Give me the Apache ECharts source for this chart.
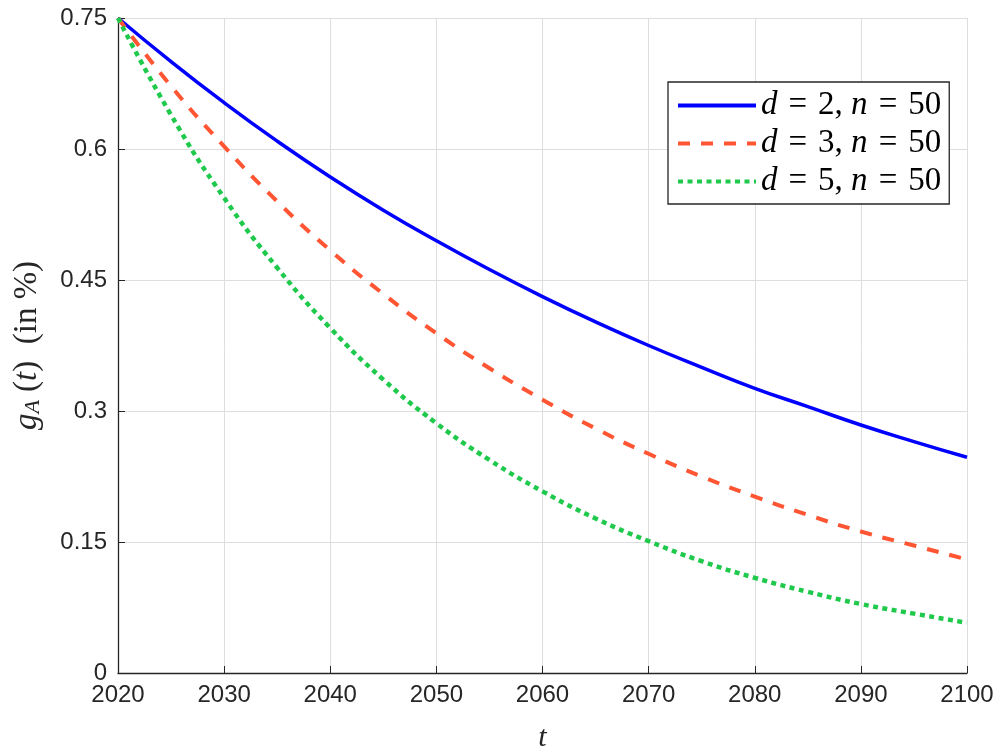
<!DOCTYPE html>
<html>
<head>
<meta charset="utf-8">
<script src="https://cdn.jsdelivr.net/npm/echarts@6/dist/echarts.min.js"></script>
<style>html,body{margin:0;padding:0;background:#fff;overflow:hidden}#c{width:1000px;height:747px}</style>
</head>
<body>
<div id="c"></div>
<script>
// Years (t)
const years = [2020,2025,2030,2035,2040,2045,2050,2055,2060,2065,2070,2075,2080,2085,2090,2095,2100];
// g_A(t) in %
const d2n50 = [0.750,0.700,0.653,0.609,0.568,0.530,0.495,0.462,0.431,0.402,0.375,0.350,0.326,0.305,0.284,0.265,0.247];
const d3n50 = [0.750,0.672,0.603,0.540,0.484,0.434,0.389,0.349,0.313,0.280,0.251,0.225,0.202,0.181,0.162,0.146,0.130];
const d5n50 = [0.750,0.639,0.544,0.464,0.395,0.336,0.286,0.244,0.208,0.177,0.151,0.128,0.109,0.093,0.079,0.068,0.0575];
const seriesNames = ['d2','d3','d5'];
const legendLabels = {d2:'2', d3:'3', d5:'5'};
const yTicks = [0, 0.15, 0.3, 0.45, 0.6, 0.75];

const pair = arr => years.map((y,i)=>[y,arr[i]]);
const TXT = '#262626';
const chart = echarts.init(document.getElementById('c'), null, {renderer:'canvas'});
const mk = (name, data, color, type, w) => ({
  name, type:'line', data: pair(data), symbol:'none', smooth:true,
  lineStyle:{color, width:w, type, cap:'butt'}, itemStyle:{color}
});
const EQ = '\u200A = \u200A';
chart.setOption({
  animation:false,
  grid:{left:118, right:33, top:18, bottom:74, containLabel:false, outerBoundsMode:'none'},
  xAxis:{
    type:'value', min:2020, max:2100, interval:10,
    axisLine:{onZero:false, lineStyle:{color:TXT, width:1.3}},
    axisTick:{inside:true, length:7, lineStyle:{color:TXT}},
    axisLabel:{color:TXT, fontSize:24, fontFamily:'Liberation Sans', margin:10, formatter:v=>String(v)},
    splitLine:{show:true, lineStyle:{color:'#dedede', width:1}},
    name:'t', nameLocation:'middle', nameGap:50,
    nameTextStyle:{fontFamily:'Liberation Serif', fontStyle:'italic', fontSize:30, color:TXT}
  },
  yAxis:{
    type:'value', min:0, max:0.75, interval:0.15,
    axisLine:{show:true, lineStyle:{color:TXT, width:1.3}},
    axisTick:{show:true, inside:true, length:7, lineStyle:{color:TXT}},
    axisLabel:{color:TXT, fontSize:24, fontFamily:'Liberation Sans', margin:11,
      formatter:v=>{const t=yTicks.find(x=>Math.abs(x-v)<1e-9); return t===undefined?'':String(t);}},
    splitLine:{show:true, lineStyle:{color:'#dedede', width:1}},
    name:'{i|g}{s|A}{n| (}{i|t}{n|)  (in %)}', nameLocation:'middle', nameGap:74, nameRotate:90,
    nameTextStyle:{color:TXT, rich:{
      i:{fontFamily:'Liberation Serif', fontStyle:'italic', fontSize:33, color:TXT},
      s:{fontFamily:'Liberation Serif', fontStyle:'italic', fontSize:22, color:TXT, verticalAlign:'bottom', padding:[12,0,0,0]},
      n:{fontFamily:'Liberation Serif', fontSize:33, color:TXT}
    }}
  },
  legend:{
    orient:'vertical', left:668, top:82, itemWidth:78, itemHeight:14, itemGap:5,
    padding:[7,8,6,8], borderColor:TXT, borderWidth:1.3, backgroundColor:'#fff',
    data:seriesNames,
    itemStyle:{opacity:0},
    lineStyle:{width:4},
    formatter:n=>'{i|d}{n|'+EQ+legendLabels[n]+', }{i|n}{n|'+EQ+'50}',
    textStyle:{rich:{
      i:{fontFamily:'Liberation Serif', fontStyle:'italic', fontSize:33, color:'#000'},
      n:{fontFamily:'Liberation Serif', fontSize:33, color:'#000'}
    }}
  },
  series:[
    mk('d2', d2n50, '#0000ff', 'solid', 3.5),
    mk('d3', d3n50, '#ff5533', [12,11], 4),
    mk('d5', d5n50, '#1fc94c', [5,4.5], 4.5)
  ]
});
</script>
</body>
</html>
